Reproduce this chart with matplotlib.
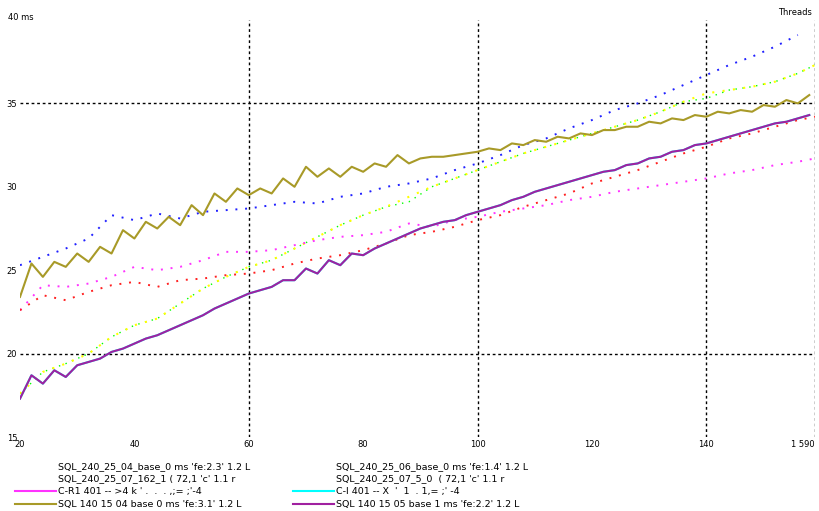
import matplotlib
matplotlib.use('Agg')
import matplotlib.pyplot as plt
from matplotlib.lines import Line2D
import numpy as np

# grille des séries pointillées (pas de 4) et des séries pleines (pas de 2)
x4 = [20, 24, 28, 32, 36, 40, 44, 48, 52, 56, 60, 64, 68, 72, 76, 80, 84, 88,
      92, 96, 100, 104, 108, 112, 116, 120, 124, 128, 132, 136, 140, 144, 148,
      152, 156, 159]
x2 = list(range(20, 160, 2))

blue = [25.3, 25.8, 26.3, 26.9, 28.3, 28.0, 28.4, 28.1, 28.5, 28.6, 28.7, 28.9,
        29.1, 29.0, 29.4, 29.6, 30.0, 30.2, 30.5, 31.0, 31.4, 31.9, 32.5, 32.9,
        33.5, 34.0, 34.6, 35.0, 35.5, 36.1, 36.7, 37.3, 37.8, 38.4, 39.1, np.nan]
red = [22.6, 23.5, 23.2, 23.7, 24.1, 24.3, 24.0, 24.4, 24.5, 24.7, 24.8, 25.0,
       25.4, 25.7, 25.9, 26.2, 26.6, 27.1, 27.3, 27.6, 28.0, 28.3, 28.8, 29.2,
       29.6, 30.2, 30.6, 31.0, 31.5, 32.0, 32.4, 32.9, 33.2, 33.6, 34.0, 34.2]
yellow = [17.6, 18.9, 19.4, 20.0, 21.0, 21.7, 22.1, 23.0, 23.9, 24.6, 25.2, 25.6,
          26.3, 27.0, 27.7, 28.3, 28.8, 29.4, 30.0, 30.5, 31.0, 31.5, 32.0, 32.4,
          32.8, 33.2, 33.6, 34.0, 34.5, 35.1, 35.6, 35.8, 36.0, 36.3, 36.8, 37.3]
green = [17.6, 18.9, 19.4, 20.0, 21.0, 21.7, 22.1, 23.0, 23.9, 24.6, 25.2, 25.6,
         26.3, 27.0, 27.7, 28.3, 28.8, 29.1, 30.0, 30.5, 31.0, 31.5, 32.0, 32.4,
         32.8, 33.2, 33.6, 34.0, 34.5, 35.1, 35.3, 35.8, 36.0, 36.3, 36.8, 37.3]
magenta = [22.6, 24.1, 24.0, 24.2, 24.6, 25.2, 25.0, 25.2, 25.6, 26.1, 26.1, 26.2,
           26.5, 26.8, 27.0, 27.1, 27.3, 27.8, 27.6, 28.0, 28.2, 28.5, 28.7, 28.9,
           29.2, 29.4, 29.7, 29.9, 30.1, 30.3, 30.5, 30.8, 31.0, 31.3, 31.5, 31.7]

olive = [23.4, 25.4, 24.6, 25.5, 25.2, 26.0, 25.5, 26.4, 26.0, 27.4, 26.9, 27.9,
         27.5, 28.2, 27.7, 28.9, 28.3, 29.6, 29.1, 29.9, 29.5, 29.9, 29.6, 30.5,
         30.0, 31.2, 30.6, 31.1, 30.6, 31.2, 30.9, 31.4, 31.2, 31.9, 31.4, 31.7,
         31.8, 31.8, 31.9, 32.0, 32.1, 32.3, 32.2, 32.6, 32.5, 32.8, 32.7, 33.0,
         32.9, 33.2, 33.1, 33.4, 33.4, 33.6, 33.6, 33.9, 33.8, 34.1, 34.0, 34.3,
         34.2, 34.5, 34.4, 34.6, 34.5, 34.9, 34.8, 35.2, 35.0, 35.5]
purple = [17.3, 18.7, 18.2, 19.0, 18.6, 19.3, 19.5, 19.7, 20.1, 20.3, 20.6, 20.9,
          21.1, 21.4, 21.7, 22.0, 22.3, 22.7, 23.0, 23.3, 23.6, 23.8, 24.0, 24.4,
          24.4, 25.1, 24.8, 25.6, 25.3, 26.0, 25.9, 26.3, 26.6, 26.9, 27.2, 27.5,
          27.7, 27.9, 28.0, 28.3, 28.5, 28.7, 28.9, 29.2, 29.4, 29.7, 29.9, 30.1,
          30.3, 30.5, 30.7, 30.9, 31.0, 31.3, 31.4, 31.7, 31.8, 32.1, 32.2, 32.5,
          32.6, 32.8, 33.0, 33.2, 33.4, 33.6, 33.8, 33.9, 34.1, 34.3]
cyan = purple

labels_left = ["SQL_240_25_04_base_0 ms 'fe:2.3' 1.2 L",
               "SQL_240_25_07_162_1 ( 72,1 'c' 1.1 r",
               "C-R1 401 -- >4 k ' .  .  . ,;= ;'-4",
               "SQL 140 15 04 base 0 ms 'fe:3.1' 1.2 L"]
labels_right = ["SQL_240_25_06_base_0 ms 'fe:1.4' 1.2 L",
                "SQL_240_25_07_5_0  ( 72,1 'c' 1.1 r",
                "C-I 401 -- X  '  1  . 1,= ;' -4",
                "SQL 140 15 05 base 1 ms 'fe:2.2' 1.2 L"]

xticks = [20, 40, 60, 80, 100, 120, 140, 159]
xticklabels = ['20', '40', '60', '80', '100', '120', '140', '1 590']
yticks = [15, 20, 25, 30, 35]

plt.close('all')
fig = plt.figure(figsize=(8.2, 5.11), dpi=100)
ax = fig.add_axes([0.0244, 0.1448, 0.9695, 0.8161])

dot = (0, (1, 4))
ax.plot(x4, green, color='#00ff00', lw=1.0, ls=dot)
ax.plot(x4, yellow, color='#ffff00', lw=1.5, ls=dot)
ax.plot(x4, blue, color='#2020ff', lw=1.4, ls=dot)
ax.plot(x4, magenta, color='#ff33ff', lw=1.4, ls=dot)
ax.plot(x4, red, color='#ff2020', lw=1.4, ls=dot)
ax.plot(x2, cyan, color='#00ffff', lw=1.5)
ax.plot(x2, olive, color='#a89a28', lw=1.5)
ax.plot(x2, purple, color='#a020a0', lw=1.5)

for v in [60, 100, 140, 159]:
    ax.axvline(v, color='black', lw=1, ls=(0, (2, 2)), zorder=0)
for v in [20, 35]:
    ax.axhline(v, color='black', lw=1, ls=(0, (2, 2)), zorder=0)

ax.set_xlim(20, 159)
ax.set_ylim(15, 40)
ax.set_xticks(xticks)
ax.set_xticklabels(xticklabels, fontsize=6)
ax.get_xticklabels()[-1].set_ha('right')
ax.set_yticks(yticks)
ax.set_yticklabels([str(v) for v in yticks], fontsize=6)
ax.tick_params(length=0, pad=2)
for s in ax.spines.values():
    s.set_visible(False)

fig.text(0.01, 0.965, '40 ms', fontsize=6, va='center')
fig.text(0.99, 0.975, 'Threads', fontsize=6, ha='right', va='center')

blank = Line2D([], [], color='none')
h_left = [blank, blank,
          Line2D([], [], color='#ff33ff', lw=1.5),
          Line2D([], [], color='#a89a28', lw=1.5)]
h_right = [blank, blank,
           Line2D([], [], color='#00ffff', lw=1.5),
           Line2D([], [], color='#a020a0', lw=1.5)]
opts = dict(loc='lower left', frameon=False, fontsize=6.8, handlelength=4.3,
            handletextpad=0.3, labelspacing=0.4, borderpad=0.2, borderaxespad=0)
fig.legend(h_left, labels_left, bbox_to_anchor=(0.016, 0.0), **opts)
fig.legend(h_right, labels_right, bbox_to_anchor=(0.355, 0.0), **opts)

fig.savefig('out.png', dpi=100)
